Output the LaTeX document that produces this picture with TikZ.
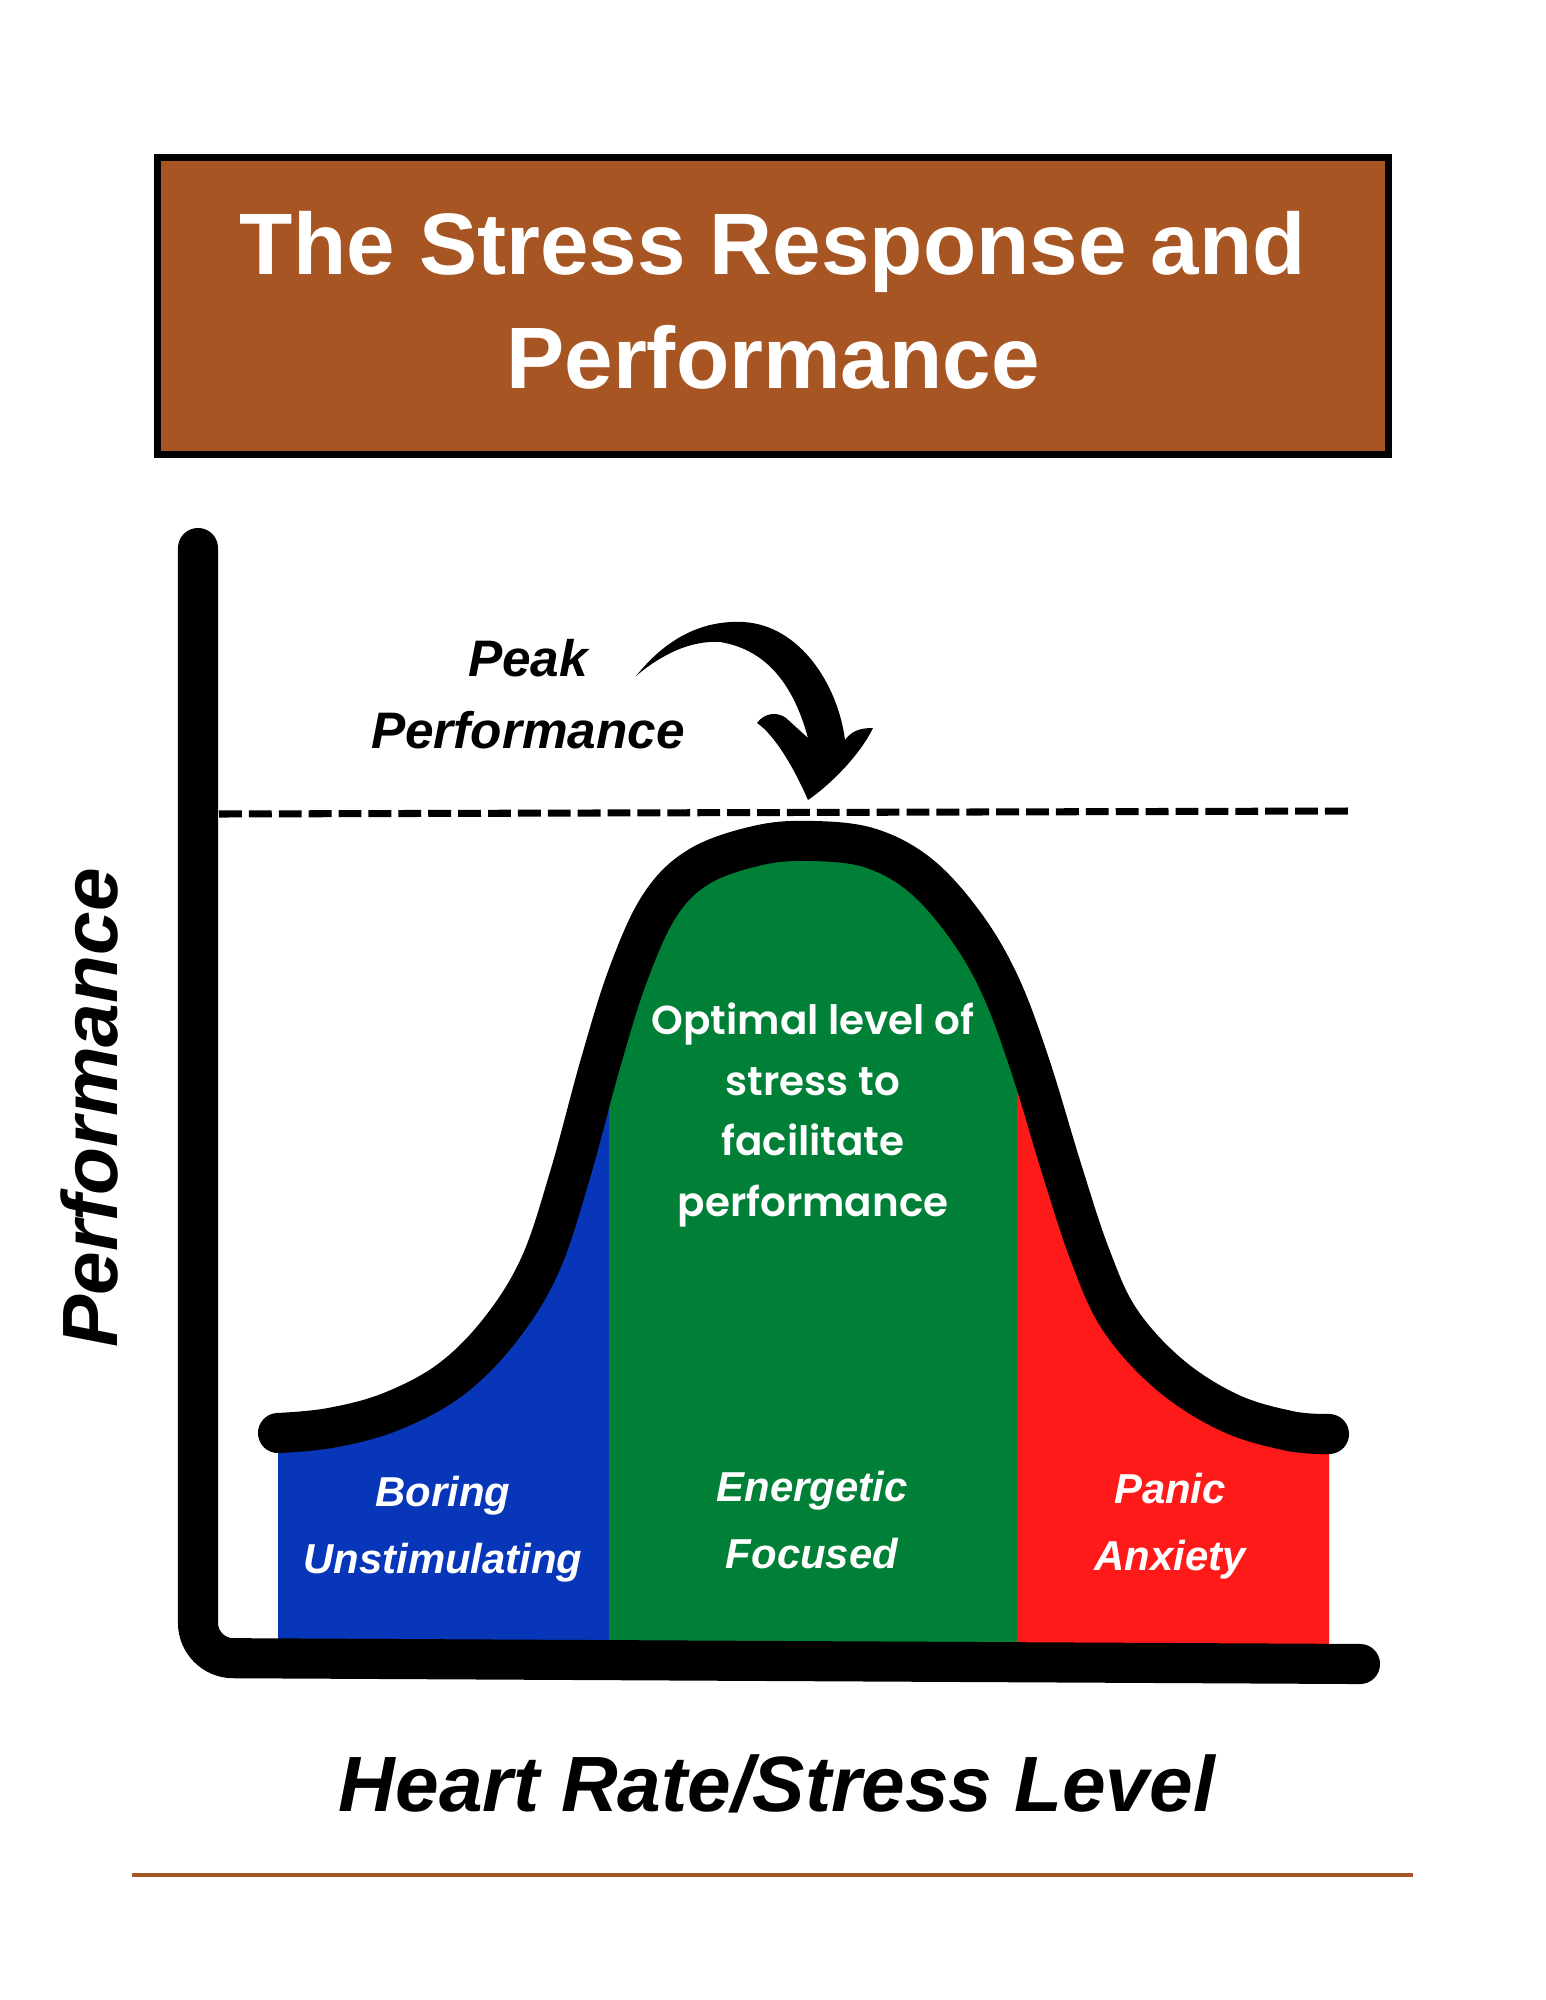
\documentclass[tikz,border=0pt]{standalone}
\usepackage{fontspec}
\setmainfont{Liberation Sans}
\newfontfamily\poppins{Poppins}[BoldFont={Poppins SemiBold}]
\usepackage{xcolor}
\definecolor{titleBrown}{HTML}{A65523}
\definecolor{boringBlue}{HTML}{0836B8}
\definecolor{focusGreen}{HTML}{007F37}
\definecolor{panicRed}{HTML}{FF1A1A}
\usepackage{tikz}
\usetikzlibrary{
    positioning,
    calc
}
\tikzset{
    % Title banner - brown box with a thick black frame
    title box/.style={
        rectangle,
        draw=black,
        line width=2pt,
        fill=titleBrown,
        minimum width=12.3cm,
        minimum height=2.97cm,
    },
    % Title text - large white bold
    title text/.style={
        font=\bfseries\fontsize{24.8}{32.4}\selectfont,
        text=white,
        align=center,
    },
    % Axis labels - bold italic black
    axis label/.style={
        font=\bfseries\itshape\fontsize{22.3}{28}\selectfont,
        text=black,
        inner sep=0pt,
    },
    % Labels inside the coloured zones
    zone label/.style={
        font=\bfseries\itshape\fontsize{11.9}{19.2}\selectfont,
        text=white,
        align=center,
    },
    % Text in the green zone - upright
    optimal label/.style={
        zone label,
        font=\poppins\bfseries\fontsize{11.5}{17.3}\selectfont,
    },
    % Peak annotation
    peak label/.style={
        font=\bfseries\itshape\fontsize{14.6}{20.5}\selectfont,
        align=center,
    },
    % Thick hand drawn strokes
    axis line/.style={
        line width=11.4pt,
        line cap=round,
        rounded corners=10pt,
    },
    curve line/.style={
        line width=11.4pt,
        line cap=round,
    },
    % Dashed peak level
    peak line/.style={
        line width=2pt,
        dash pattern=on 6.5pt off 2pt,
    },
}
% Bell curve through the three zones
\newcommand{\bellcurve}{plot[smooth, tension=0.6] coordinates {
    (278,1433) (330,1428) (390,1412) (450,1380) (500,1330) (540,1265)
    (570,1175) (600,1065) (628,975) (660,905) (700,866) (760,845)
    (813,841) (870,848) (920,875) (965,925) (1000,985) (1030,1065)
    (1062,1170) (1090,1255) (1120,1320) (1170,1375) (1230,1413)
    (1290,1431) (1329,1434)}}

\begin{document}
\begin{tikzpicture}[x=0.01cm, y=-0.01cm]
    \useasboundingbox (0,0) rectangle (1545,2000);

    % Title
    \node (titlebox) [title box] at (773,306) {};
    \node (title) [title text] at (773,300) {The Stress Response and\\Performance};

    % Coloured zones under the curve
    \begin{scope}
        \clip \bellcurve -- (1329,1650) -- (278,1650) -- cycle;
        \fill[boringBlue] (270,800) rectangle (609,1650);
        \fill[focusGreen] (609,800) rectangle (1017,1650);
        \fill[panicRed] (1017,800) rectangle (1340,1650);
    \end{scope}
    \draw [curve line] \bellcurve;

    % Axes and peak level
    \draw [peak line] (219,814) -- (1350,811);
    \draw [axis line] (198,548) -- (198,1658) -- (1360,1664);

    % Curved arrow to the peak
    \fill (636,676) .. controls (665,640) and (700,620) .. (743,622)
        .. controls (800,625) and (838,685) .. (845,740)
        .. controls (852,730) and (862,728) .. (873,728)
        .. controls (860,755) and (830,785) .. (808,800)
        .. controls (795,770) and (775,735) .. (757,723)
        .. controls (765,712) and (778,712) .. (786,718)
        -- (808,738)
        .. controls (795,690) and (770,650) .. (720,642)
        .. controls (685,640) and (655,660) .. (636,676) -- cycle;

    \node (peak) [peak label] at (528,694) {Peak\\Performance};
    \node (optimal) [optimal label] at (813,1115) {Optimal level of\\stress to\\facilitate\\performance};
    \node (boring) [zone label] at (443,1529) {Boring\\Unstimulating};
    \node (energetic) [zone label] at (812,1520) {Energetic\\Focused};
    \node (panic) [zone label] at (1170,1526) {Panic\\Anxiety};

    \node (ylabel) [axis label, rotate=90, anchor=base] at (117,1108) {Performance};
    \node (xlabel) [axis label, anchor=base] at (777,1811) {Heart Rate/Stress Level};

    \draw [titleBrown, line width=1.14pt] (132,1875) -- (1413,1875);
\end{tikzpicture}
\end{document}
